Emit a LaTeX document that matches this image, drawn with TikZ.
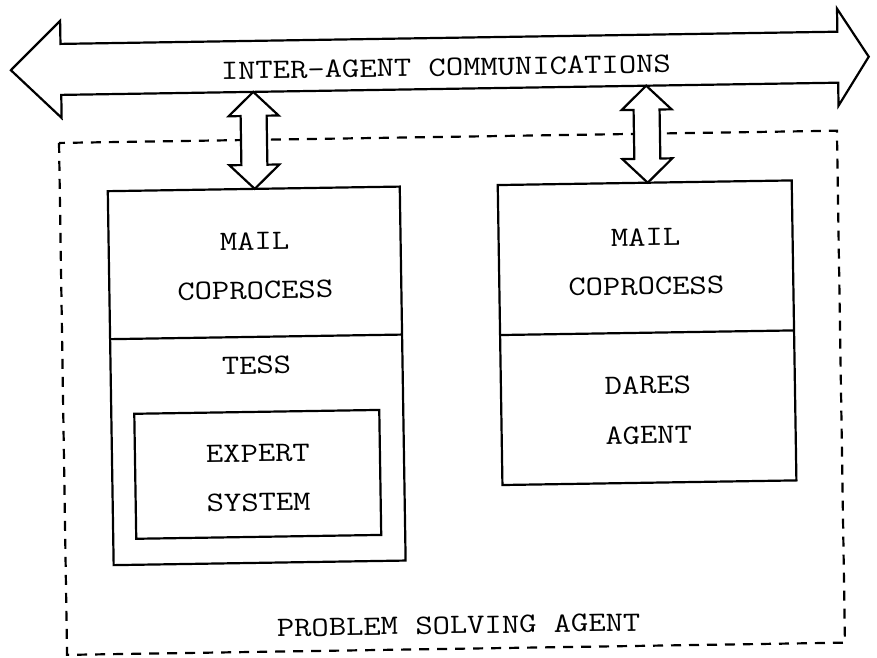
\documentclass[tikz,border=0pt]{standalone}
\usepackage{graphicx}
\tikzset{
  outline/.style={line width=2.2pt, line join=miter},
  frame/.style={line width=2.2pt, dash pattern=on 10pt off 8pt},
  lbl/.style={anchor=base, inner sep=0pt, font=\fontsize{28}{34}\selectfont\ttfamily},
  updown/.pic={
    \draw[outline, fill=white] (0,0) -- (25,24) -- (13,24) -- (13,73) -- (25,73)
      -- (0,97) -- (-25,73) -- (-13,73) -- (-13,24) -- (-25,24) -- cycle;
  }
}
\newcommand{\widetext}[1]{\scalebox{1.2}[1]{#1}}
\begin{document}
\begin{tikzpicture}[x=1pt,y=-1pt]
\useasboundingbox (0,0) rectangle (877,657);
\begin{scope}[rotate around={0.9:(438,330)}, transform shape]
  % agent frame
  \draw[frame] (62,137) rectangle (840,649);

  % communication channel: wide double-headed arrow
  \coordinate (ltip) at (15,63.5);
  \coordinate (rtip) at (873,63.5);
  \draw[outline, fill=white] (ltip) -- (65,15) -- (65,38) -- (842,38) -- (842,15)
    -- (rtip) -- (842,112) -- (842,89) -- (65,89) -- (65,112) -- cycle;
  \node[lbl] (comm) at (450,76) {\widetext{INTER-AGENT COMMUNICATIONS}};

  % links between channel and mail coprocesses
  \pic at (257,89) {updown};
  \pic at (650,89) {updown};

  % left agent
  \draw[outline] (110,186) rectangle (402,560);
  \draw[outline] (110,334) -- (402,334);
  \draw[outline] (133,409) rectangle (378,534);
  \node[lbl] (mailL) at (256,247) {\widetext{MAIL}};
  \node[lbl] (copL)  at (256,296) {\widetext{COPROCESS}};
  \node[lbl] (tess)  at (256,371) {\widetext{TESS}};
  \node[lbl] (expert) at (256,459) {\widetext{EXPERT}};
  \node[lbl] (system) at (256,508) {\widetext{SYSTEM}};

  % right agent
  \draw[outline] (500,186) rectangle (794,486);
  \draw[outline] (500,336) -- (794,336);
  \node[lbl] (mailR) at (647,249) {\widetext{MAIL}};
  \node[lbl] (copR)  at (647,298) {\widetext{COPROCESS}};
  \node[lbl] (dares) at (647,397) {\widetext{DARES}};
  \node[lbl] (agent) at (647,447) {\widetext{AGENT}};

  \node[lbl] (psa) at (454,634) {\widetext{PROBLEM SOLVING AGENT}};
\end{scope}
\end{tikzpicture}
\end{document}
